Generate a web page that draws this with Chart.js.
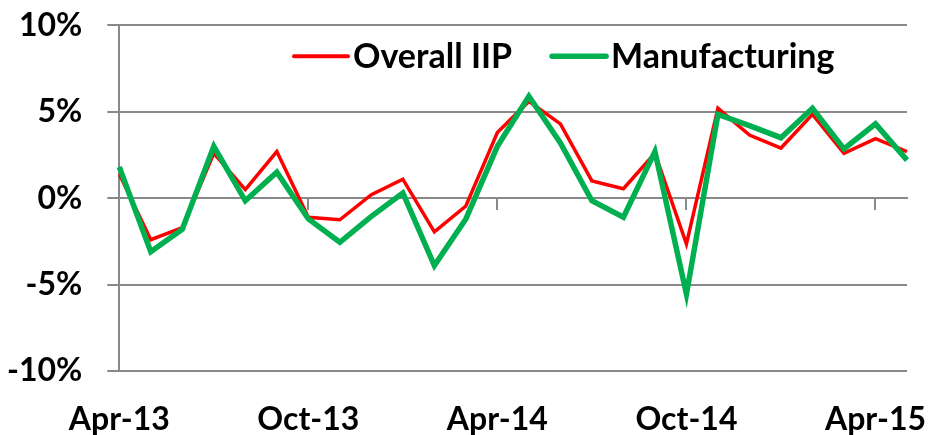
<!DOCTYPE html>
<html>
<head>
<meta charset="utf-8">
<script src="https://cdn.jsdelivr.net/npm/chart.js@4"></script>
<style>
  html, body { margin: 0; padding: 0; background: #fff; }
  #wrap { width: 930px; height: 435px; }
</style>
</head>
<body>
<div id="wrap"><canvas id="iipChart"></canvas></div>
<script>
// Monthly YoY growth, Apr-13 .. May-15
const months = [
  "Apr-13", "May-13", "Jun-13", "Jul-13", "Aug-13", "Sep-13",
  "Oct-13", "Nov-13", "Dec-13", "Jan-14", "Feb-14", "Mar-14",
  "Apr-14", "May-14", "Jun-14", "Jul-14", "Aug-14", "Sep-14",
  "Oct-14", "Nov-14", "Dec-14", "Jan-15", "Feb-15", "Mar-15",
  "Apr-15", "May-15"
];
const overallIIP = [
  1.4, -2.4, -1.7, 2.6, 0.5, 2.7,
  -1.1, -1.25, 0.2, 1.1, -1.95, -0.45,
  3.8, 5.6, 4.3, 1.0, 0.55, 2.6,
  -2.65, 5.2, 3.65, 2.9, 4.85, 2.6,
  3.45, 2.7
];
const manufacturing = [
  1.8, -3.1, -1.8, 3.0, -0.15, 1.5,
  -1.2, -2.55, -1.05, 0.3, -3.9, -1.2,
  3.0, 5.9, 3.2, -0.15, -1.1, 2.7,
  -5.55, 4.85, 4.2, 3.5, 5.2, 2.85,
  4.3, 2.2
];
const yTicks = [-10, -5, 0, 5, 10];
const labelEvery = 6;

const FONT = { family: "Lato, 'Open Sans', sans-serif", size: 32, weight: "bold" };
const LEGEND_FONT_SIZE = 34;
const GRID = "#898989";

// Legend drawn inside the plot area, like the Excel original
const insideLegend = {
  id: "insideLegend",
  afterDraw(chart) {
    const ctx = chart.ctx;
    const area = chart.chartArea;
    const y = area.top + 31;
    let x = 294;
    ctx.save();
    ctx.font = `${FONT.weight} ${LEGEND_FONT_SIZE}px ${FONT.family}`;
    ctx.textBaseline = "middle";
    chart.data.datasets.forEach((ds, i) => {
      ctx.strokeStyle = ds.borderColor;
      ctx.lineWidth = i === 0 ? 4 : 5.5;
      ctx.lineCap = "round";
      ctx.beginPath();
      ctx.moveTo(x, y);
      ctx.lineTo(x + 54, y);
      ctx.stroke();
      ctx.fillStyle = "#000";
      ctx.fillText(ds.label, x + 59, y + 1);
      x += 59 + ctx.measureText(ds.label).width + 40;
    });
    ctx.restore();
  }
};

new Chart(document.getElementById("iipChart"), {
  type: "line",
  data: {
    labels: months,
    datasets: [
      {
        label: "Overall IIP",
        data: overallIIP,
        borderColor: "#ff0000",
        borderWidth: 3.5,
        pointRadius: 0,
        tension: 0,
        order: 1,
      },
      {
        label: "Manufacturing",
        data: manufacturing,
        borderColor: "#00b050",
        borderWidth: 5.5,
        pointRadius: 0,
        tension: 0,
        order: 0, // green on top
      },
    ],
  },
  options: {
    responsive: true,
    maintainAspectRatio: false,
    animation: false,
    layout: { padding: { top: 0, right: 23, left: -18, bottom: -34 } },
    plugins: { legend: { display: false }, tooltip: { enabled: false } },
    scales: {
      y: {
        min: -10,
        max: 10,
        afterBuildTicks: (s) => { s.ticks = yTicks.map(v => ({ value: v })); },
        ticks: {
          callback: (v) => v + "%",
          color: "#000",
          // tiny lineHeight so the label overhang doesn't push the plot down
          font: { ...FONT, lineHeight: 0.02 },
          padding: 25,
        },
        grid: { color: GRID, lineWidth: 2, tickLength: 12 },
        border: { display: true, color: GRID, width: 2 },
      },
      // labels along the bottom; tall lineHeight pushes them down instead of padding
      x: {
        offset: false,
        grid: { display: false, drawTicks: false },
        border: { display: false },
        ticks: {
          autoSkip: false,
          maxRotation: 0,
          color: "#000",
          font: { ...FONT, lineHeight: 3.06 },
          padding: 0,
          callback: (v, i) => (i % labelEvery === 0 ? months[i] : ""),
        },
      },
      // axis line + tick marks crossing at 0%
      x2: {
        type: "category",
        axis: "x",
        position: { y: 0 },
        offset: false,
        grid: {
          drawOnChartArea: false,
          tickLength: 11,
          lineWidth: 2,
          color: (c) => (c.index % labelEvery === 0 ? GRID : "rgba(0,0,0,0)"),
        },
        border: { display: true, color: GRID, width: 2 },
        ticks: { display: false, autoSkip: false },
      },
    },
  },
  plugins: [insideLegend],
});
</script>
</body>
</html>
